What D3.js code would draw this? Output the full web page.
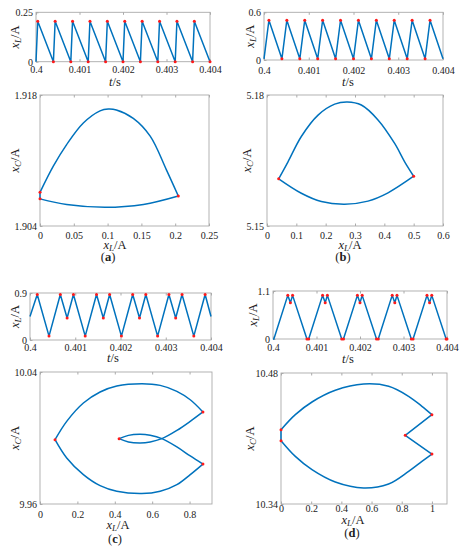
<!DOCTYPE html>
<html><head><meta charset="utf-8">
<script src="https://cdn.jsdelivr.net/npm/d3@7"></script>
<style>
body{margin:0;background:#fff}
svg{display:block}
text{font-family:"Liberation Serif","Times New Roman",serif;fill:#222}
</style>
</head><body>
<svg id="c" width="467" height="550"></svg>
<script>
// ---------- DATA ----------
// time axis ticks
const timeTicks = [0.4, 0.401, 0.402, 0.403, 0.404];
const timeTickLabels = ["0.4", "0.401", "0.402", "0.403", "0.404"];

// (a) inductor current vs time
const tA = [0.4, 0.40004, 0.4004, 0.40044, 0.4008, 0.40084, 0.4012, 0.40124, 0.4016, 0.40164, 0.402, 0.40204, 0.4024, 0.40244, 0.4028, 0.40284, 0.4032, 0.40324, 0.4036, 0.40364, 0.404];
const xA = [0, 0.205, 0, 0.205, 0, 0.205, 0, 0.205, 0, 0.205, 0, 0.205, 0, 0.205, 0, 0.205, 0, 0.205, 0, 0.205, 0];
const dotA = [0, 1, 1, 1, 1, 1, 1, 1, 1, 1, 1, 1, 1, 1, 1, 1, 1, 1, 1, 1, 1];
// (b)
const tB = [0.4, 0.40011, 0.4004, 0.40051, 0.4008, 0.40091, 0.4012, 0.40131, 0.4016, 0.40171, 0.402, 0.40211, 0.4024, 0.40251, 0.4028, 0.40291, 0.4032, 0.40331, 0.4036, 0.40371, 0.404];
const xB = [0.015, 0.5, 0.015, 0.5, 0.015, 0.5, 0.015, 0.5, 0.015, 0.5, 0.015, 0.5, 0.015, 0.5, 0.015, 0.5, 0.015, 0.5, 0.015, 0.5, 0.015];
const dotB = [0, 1, 1, 1, 1, 1, 1, 1, 1, 1, 1, 1, 1, 1, 1, 1, 1, 1, 1, 1, 0];
// (c)
const tC = [0.4, 0.40016, 0.40042, 0.40067, 0.40082, 0.40096, 0.40122, 0.40147, 0.40162, 0.40176, 0.40202, 0.40227, 0.40242, 0.40256, 0.40282, 0.40307, 0.40322, 0.40336, 0.40362, 0.40387, 0.404];
const xC = [0.45, 0.87, 0.075, 0.87, 0.42, 0.87, 0.075, 0.87, 0.42, 0.87, 0.075, 0.87, 0.42, 0.87, 0.075, 0.87, 0.42, 0.87, 0.075, 0.87, 0.45];
const dotC = [0, 1, 1, 1, 1, 1, 1, 1, 1, 1, 1, 1, 1, 1, 1, 1, 1, 1, 1, 1, 0];
// (d)
const tD = [0.4, 0.40002, 0.40034, 0.4004, 0.40045, 0.40078, 0.40082, 0.40114, 0.4012, 0.40125, 0.40158, 0.40162, 0.40194, 0.402, 0.40205, 0.40238, 0.40242, 0.40274, 0.4028, 0.40285, 0.40318, 0.40322, 0.40354, 0.4036, 0.40365, 0.40398, 0.404];
const xD = [0, 0, 1, 0.83, 1, 0, 0, 1, 0.83, 1, 0, 0, 1, 0.83, 1, 0, 0, 1, 0.83, 1, 0, 0, 1, 0.83, 1, 0, 0];
const dotD = [0, 0, 1, 1, 1, 1, 1, 1, 1, 1, 1, 1, 1, 1, 1, 1, 1, 1, 1, 1, 1, 1, 1, 1, 1, 1, 1];

// phase portraits [xL, xC]
const aUp = [[0,1.9076],[0.0197,1.9104],[0.0394,1.9127],[0.0641,1.9150],[0.0888,1.9163],[0.101,1.9165],[0.113,1.9164],[0.138,1.9155],[0.163,1.9136],[0.187,1.9100],[0.2046,1.9072]];
const aLow = [[0,1.9069],[0.0394,1.9063],[0.096,1.9060],[0.153,1.9063],[0.2046,1.9072]];
const aSeg = [[0,1.9069],[0,1.9076]];
const aDots = [[0,1.9076],[0,1.9069],[0.2046,1.9072]];

const bUp = [[0.0398,5.1608],[0.0716,5.1647],[0.117,5.1705],[0.174,5.1754],[0.2307,5.1779],[0.2739,5.1784],[0.3216,5.1777],[0.3784,5.1743],[0.4352,5.1689],[0.4693,5.1647],[0.5,5.1614]];
const bLow = [[0.0398,5.1608],[0.117,5.1575],[0.1852,5.1556],[0.2648,5.1550],[0.3443,5.1557],[0.4125,5.1576],[0.5,5.1614]];
const bDots = [[0.0398,5.1608],[0.5,5.1614]];

const cUp = [[0.0804,9.9990],[0.1429,10.0101],[0.2321,10.0212],[0.3214,10.0279],[0.4107,10.0315],[0.5446,10.0329],[0.6429,10.0319],[0.7321,10.0283],[0.8036,10.0232],[0.8714,10.0158]];
const cLow = [[0.0804,9.9990],[0.1429,9.9879],[0.2321,9.9778],[0.3214,9.9711],[0.4107,9.9677],[0.5446,9.9663],[0.6429,9.9677],[0.7321,9.9717],[0.8036,9.9778],[0.8714,9.9842]];
const cIn1 = [[0.8714,10.0158],[0.8036,10.0101],[0.7321,10.0046],[0.6518,9.9996],[0.5893,9.9976],[0.5357,9.9970],[0.4732,9.9976],[0.4232,9.9996]];
const cIn2 = [[0.8714,9.9842],[0.8036,9.9891],[0.7321,9.9946],[0.6518,9.9996],[0.5893,10.0016],[0.5357,10.0022],[0.4732,10.0016],[0.4232,9.9996]];
const cDots = [[0.0804,9.9990],[0.8714,10.0158],[0.8714,9.9842],[0.4232,9.9996]];

const dUp = [[0,10.4194],[0.0949,10.4355],[0.2053,10.4490],[0.3598,10.4615],[0.5475,10.4682],[0.7130,10.4658],[0.8455,10.4551],[0.9338,10.4444],[1.0,10.4355]];
const dLow = [[0,10.4077],[0.0949,10.3909],[0.2053,10.3767],[0.3598,10.3635],[0.5475,10.3571],[0.7130,10.3614],[0.8455,10.3749],[0.9338,10.3856],[1.0,10.3934]];
const dV = [[1.0,10.4355],[0.8234,10.4134],[1.0,10.3934]];
const dSeg = [[0,10.4194],[0,10.4077]];
const dDots = [[0,10.4194],[0,10.4077],[1.0,10.4355],[0.8234,10.4134],[1.0,10.3934]];

// tick arrays
const aXTicks = [0, 0.05, 0.1, 0.15, 0.2, 0.25], aXLabels = ["0","0.05","0.1","0.15","0.2","0.25"];
const bXTicks = [0, 0.1, 0.2, 0.3, 0.4, 0.5, 0.6], bXLabels = ["0","0.1","0.2","0.3","0.4","0.5","0.6"];
const cXTicks = [0, 0.2, 0.4, 0.6, 0.8], cXLabels = ["0","0.2","0.4","0.6","0.8"];
const dXTicks = [0, 0.2, 0.4, 0.6, 0.8, 1], dXLabels = ["0","0.2","0.4","0.6","0.8","1"];

// ---------- DRAW ----------
const svg = d3.select('#c');
const FONT = '"Liberation Serif","Times New Roman",serif';
const BOXC = '#aaaaaa', BLUE = '#0072BD', RED = '#ff1a1a';

function addVar(sel, sub){
  sel.append('tspan').attr('font-style','italic').text('x');
  sel.append('tspan').attr('font-style','italic').attr('font-size','9px').attr('dy', 2).text(sub);
  sel.append('tspan').attr('dy', -2).text('/A');
}

function panel(cfg){
  const [x0,y0,x1,y1] = cfg.box;
  const x = d3.scaleLinear().domain(cfg.xd).range([x0,x1]);
  const y = d3.scaleLinear().domain(cfg.yd).range([y1,y0]);
  const g = svg.append('g');

  const axB = g.append('g').attr('transform',`translate(0,${y1})`)
    .call(d3.axisBottom(x).tickValues(cfg.xt).tickFormat((d,i)=>cfg.xl[i]).tickSize(-2.5).tickPadding(0));
  const axT = g.append('g').attr('transform',`translate(0,${y0})`)
    .call(d3.axisTop(x).tickValues(cfg.xt).tickFormat('').tickSize(-2.5));
  const axL = g.append('g').attr('transform',`translate(${x0},0)`)
    .call(d3.axisLeft(y).tickValues(cfg.yt).tickFormat((d,i)=>cfg.yl[i]).tickSize(-2.5).tickPadding(3));
  [axB,axT,axL].forEach(a=>{
    a.attr('font-family',FONT).attr('font-size',10).attr('color','#222');
    a.select('.domain').remove();
    a.selectAll('line').attr('stroke',BOXC);
  });
  axB.selectAll('text').attr('y', cfg.tickY - y1).attr('dy','0.35em');
  axL.selectAll('text').attr('x', -3).attr('dy','0.35em');

  g.append('rect').attr('x',x0).attr('y',y0).attr('width',x1-x0).attr('height',y1-y0)
    .attr('fill','none').attr('stroke',BOXC).attr('stroke-width',0.9);

  const lineLin = d3.line().x(d=>x(d[0])).y(d=>y(d[1]));
  const lineCurve = d3.line().x(d=>x(d[0])).y(d=>y(d[1])).curve(d3.curveCatmullRom.alpha(0.5));
  (cfg.lines||[]).forEach(L=>{
    g.append('path').datum(L).attr('d', lineLin).attr('fill','none').attr('stroke',BLUE).attr('stroke-width',1.5).attr('stroke-linejoin','round');
  });
  (cfg.curves||[]).forEach(L=>{
    g.append('path').datum(L).attr('d', lineCurve).attr('fill','none').attr('stroke',BLUE).attr('stroke-width',1.5);
  });
  g.selectAll('circle.dot').data(cfg.dots).enter().append('circle')
    .attr('cx',d=>x(d[0])).attr('cy',d=>y(d[1])).attr('r',1.5).attr('fill',RED);

  // y label
  const yl = g.append('text').attr('transform',`translate(${cfg.ylabX},${(y0+y1)/2}) rotate(-90)`)
    .attr('text-anchor','middle').attr('dy','0.35em').attr('font-size',12.5);
  addVar(yl, cfg.ysub);
  // x label
  const xl = g.append('text').attr('x',cfg.xlab[0]).attr('y',cfg.xlab[1]).attr('text-anchor','middle')
    .attr('dy','0.3em').attr('font-size',12.5);
  if (cfg.xsub) addVar(xl, cfg.xsub);
  else { xl.append('tspan').attr('font-style','italic').text('t'); xl.append('tspan').text('/s'); }
  if (cfg.cap){
    const c = g.append('text').attr('x',cfg.cap[0]).attr('y',cfg.cap[1]).attr('text-anchor','middle')
      .attr('dy','0.38em').attr('font-size',12.5);
    c.append('tspan').text('(');
    c.append('tspan').attr('font-weight','bold').text(cfg.cap[2]);
    c.append('tspan').text(')');
  }
}

function toPts(t, v){ return t.map((d,i)=>[d, v[i]]); }
function toDots(t, v, m){ return t.map((d,i)=>[d, v[i]]).filter((d,i)=>m[i]); }

panel({box:[36,12.3,210,61.7], xd:[0.4,0.404], yd:[0,0.25], xt:timeTicks, xl:timeTickLabels, yt:[0,0.25], yl:["0","0.25"],
  tickY:70, xlab:[115,82], ylabX:15, ysub:'L', lines:[toPts(tA,xA)], dots:toDots(tA,xA,dotA)});
panel({box:[264,12.3,443,60], xd:[0.4,0.404], yd:[0,0.6], xt:timeTicks, xl:timeTickLabels, yt:[0,0.6], yl:["0","0.6"],
  tickY:70.5, xlab:[348,82], ylabX:250, ysub:'L', lines:[toPts(tB,xB)], dots:toDots(tB,xB,dotB)});
panel({box:[40,95,209,226], xd:[0,0.25], yd:[1.904,1.918], xt:aXTicks, xl:aXLabels, yt:[1.904,1.918], yl:["1.904","1.918"],
  tickY:235, xlab:[115,245], xsub:'L', cap:[108,256,'a'], ylabX:15, ysub:'C', lines:[aSeg], curves:[aUp,aLow], dots:aDots});
panel({box:[267,95,443,226], xd:[0,0.6], yd:[5.15,5.18], xt:bXTicks, xl:bXLabels, yt:[5.15,5.18], yl:["5.15","5.18"],
  tickY:235, xlab:[350,245], xsub:'L', cap:[343,256,'b'], ylabX:247, ysub:'C', curves:[bUp,bLow], dots:bDots});
panel({box:[30,293,211,340], xd:[0.4,0.404], yd:[0,0.9], xt:timeTicks, xl:timeTickLabels, yt:[0,0.9], yl:["0","0.9"],
  tickY:347, xlab:[113,358], ylabX:15, ysub:'L', lines:[toPts(tC,xC)], dots:toDots(tC,xC,dotC)});
panel({box:[273,291,447,339], xd:[0.4,0.404], yd:[0,1.1], xt:timeTicks, xl:timeTickLabels, yt:[0,1.1], yl:["0","1.1"],
  tickY:347, xlab:[348,359], ylabX:253, ysub:'L', lines:[toPts(tD,xD)], dots:toDots(tD,xD,dotD)});
panel({box:[40,372,212,504], xd:[0,0.92], yd:[9.96,10.04], xt:cXTicks, xl:cXLabels, yt:[9.96,10.04], yl:["9.96","10.04"],
  tickY:514, xlab:[118,525], xsub:'L', cap:[115,538,'c'], ylabX:15, ysub:'C', curves:[cUp,cLow,cIn1,cIn2], dots:cDots});
panel({box:[281,373,447,504], xd:[0,1.1], yd:[10.34,10.48], xt:dXTicks, xl:dXLabels, yt:[10.34,10.48], yl:["10.34","10.48"],
  tickY:508.5, xlab:[353,520], xsub:'L', cap:[352,532,'d'], ylabX:250, ysub:'C', lines:[dSeg,dV], curves:[dUp,dLow], dots:dDots});
</script>
</body></html>
